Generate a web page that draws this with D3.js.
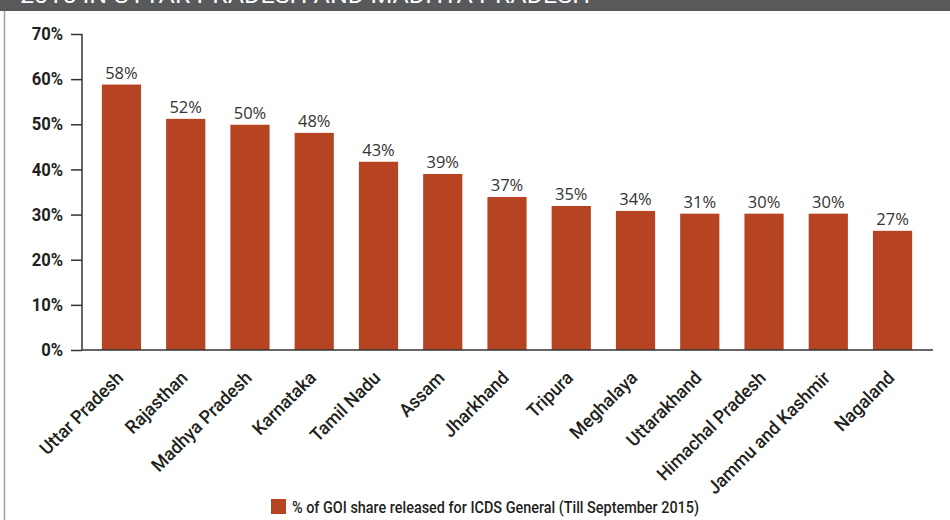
<!DOCTYPE html>
<html>
<head>
<meta charset="utf-8">
<script src="https://cdn.jsdelivr.net/npm/d3@7"></script>
<style>
  body { margin: 0; background: #fff; }
  svg { display: block; }
</style>
</head>
<body>
<svg width="950" height="520"></svg>
<script>
// data
const states = ["Uttar Pradesh", "Rajasthan", "Madhya Pradesh", "Karnataka", "Tamil Nadu", "Assam",
  "Jharkhand", "Tripura", "Meghalaya", "Uttarakhand", "Himachal Pradesh", "Jammu and Kashmir", "Nagaland"];
const shares = [58.8, 51.2, 49.9, 48.1, 41.7, 39.0, 33.9, 31.9, 30.8, 30.2, 30.2, 30.2, 26.4];
const shareLabels = ["58%", "52%", "50%", "48%", "43%", "39%", "37%", "35%", "34%", "31%", "30%", "30%", "27%"];
const yTicks = [0, 10, 20, 30, 40, 50, 60, 70];
const legendText = "% of GOI share released for ICDS General (Till September 2015)";
const headerText = "2015 IN UTTAR PRADESH AND MADHYA PRADESH";

const barColor = "#b64322";
const font = "Roboto, sans-serif";

const svg = d3.select("svg");

// header strip, title mostly cut off at the top
svg.append("rect")
    .attr("x", 0).attr("y", 0)
    .attr("width", 950).attr("height", 11)
    .attr("fill", "#58595b");
svg.append("text")
    .attr("x", 20).attr("y", 3)
    .attr("fill", "#fff")
    .attr("font-family", font)
    .attr("font-size", "22px")
    .attr("textLength", 570)
    .attr("lengthAdjust", "spacingAndGlyphs")
    .text(headerText);

// left frame line
svg.append("line")
    .attr("x1", 4.5).attr("x2", 4.5)
    .attr("y1", 11).attr("y2", 520)
    .attr("stroke", "#a0a0a0")
    .attr("stroke-width", 1.5);

const data = states.map((s, i) => ({state: s, value: shares[i], label: shareLabels[i]}));

const x = d3.scaleBand()
    .domain(states)
    .range([89, 925])
    .paddingInner(0.39)
    .paddingOuter(0.2);

const y = d3.scaleLinear()
    .domain([0, 70])
    .range([350, 34]);

// bars
svg.append("g")
    .selectAll("rect")
    .data(data)
    .join("rect")
    .attr("x", d => x(d.state))
    .attr("y", d => y(d.value))
    .attr("width", x.bandwidth())
    .attr("height", d => y(0) - y(d.value))
    .attr("fill", barColor);

// value labels
svg.append("g")
    .selectAll("text")
    .data(data)
    .join("text")
    .attr("x", d => x(d.state) + x.bandwidth() / 2)
    .attr("y", d => y(d.value) - 6)
    .attr("text-anchor", "middle")
    .attr("font-family", "'Open Sans', sans-serif")
    .attr("font-size", "16.5px")
    .attr("fill", "#333")
    .text(d => d.label);

// y axis
const yAxis = svg.append("g")
    .attr("transform", "translate(82,0)")
    .call(d3.axisLeft(y).tickValues(yTicks).tickSize(11).tickPadding(9).tickFormat(d => d + "%"));
yAxis.select(".domain").attr("stroke", "#333").attr("stroke-width", 1.5)
    .attr("d", `M0,${y(70)}V${y(0)}`);
yAxis.selectAll(".tick line").attr("stroke", "#333").attr("stroke-width", 1.5);
yAxis.selectAll(".tick text")
    .attr("font-family", font)
    .attr("font-weight", "bold")
    .attr("font-size", "17.5px")
    .attr("fill", "#231f20")
    .attr("transform", "scale(0.95,1)");

// x axis
const xAxis = svg.append("g")
    .attr("transform", `translate(0,${y(0)})`)
    .call(d3.axisBottom(x).tickSize(0).tickPadding(0));
xAxis.select(".domain").attr("stroke", "#333").attr("stroke-width", 1.5)
    .attr("d", "M82,0H933");
xAxis.selectAll(".tick text")
    .attr("font-family", font)
    .attr("font-weight", 500)
    .attr("font-size", "18.5px")
    .attr("fill", "#231f20")
    .attr("text-anchor", "end")
    .attr("dy", 0)
    .attr("transform", "translate(3,29) rotate(-45) scale(0.96,1)");

// legend
const legend = svg.append("g").attr("transform", "translate(271,499)");
legend.append("rect")
    .attr("width", 15).attr("height", 15)
    .attr("fill", barColor);
legend.append("text")
    .attr("x", 21).attr("y", 14)
    .attr("font-family", font)
    .attr("font-weight", 500)
    .attr("font-size", "16.5px")
    .attr("fill", "#231f20")
    .attr("textLength", 407)
    .attr("lengthAdjust", "spacingAndGlyphs")
    .text(legendText);
</script>
</body>
</html>
